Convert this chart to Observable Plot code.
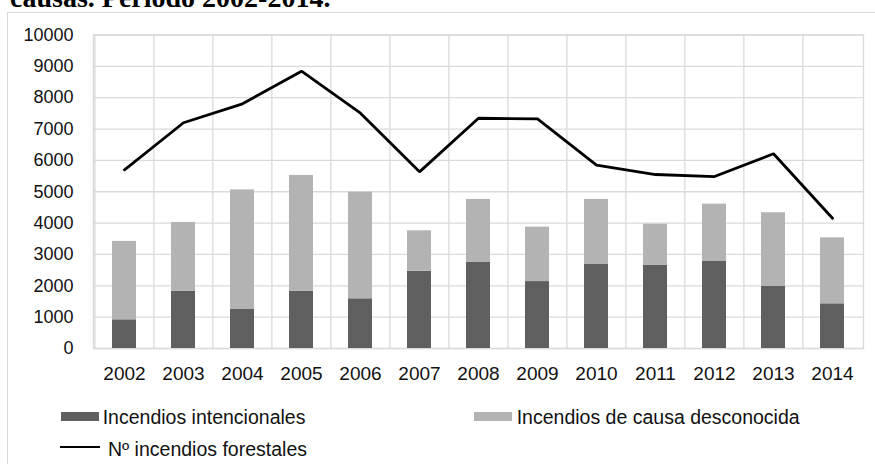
<!DOCTYPE html>
<html>
<head>
<meta charset="utf-8">
<script src="https://cdn.jsdelivr.net/npm/d3@7"></script>
<script src="https://cdn.jsdelivr.net/npm/@observablehq/plot@0.6"></script>
<style>
  html, body { margin: 0; padding: 0; background: #fff; }
  #wrap { position: relative; width: 875px; height: 464px; overflow: hidden; background: #fff; font-family: "Liberation Sans", Arial, sans-serif; }
  #title { position: absolute; left: 10px; top: -16.4px; font-family: "Liberation Serif", "Times New Roman", serif; font-weight: bold; font-size: 28px; line-height: 28px; white-space: nowrap; color: #000; }
  #box { position: absolute; left: 7px; top: 12px; width: 1000px; height: 1000px; border: 1.5px solid #d9d9d9; box-sizing: border-box; }
  #chart { position: absolute; left: 0; top: 13px; }
  .leg { position: absolute; font-size: 19.5px; line-height: 18px; white-space: nowrap; color: #111; }
  .sw { position: absolute; }
</style>
</head>
<body>
<div id="wrap">
  <div id="title">causas. Periodo 2002-2014.</div>
  <div id="box"></div>
  <div id="chart"></div>
  <div id="legend"></div>
</div>
<script>
const years = ["2002","2003","2004","2005","2006","2007","2008","2009","2010","2011","2012","2013","2014"];
const intencionales = [915, 1830, 1245, 1830, 1585, 2465, 2745, 2135, 2680, 2650, 2775, 1980, 1425];
const desconocida   = [2500, 2190, 3815, 3690, 3400, 1290, 2010, 1735, 2075, 1315, 1830, 2350, 2105];
const forestales    = [5700, 7200, 7805, 8845, 7505, 5635, 7345, 7325, 5850, 5550, 5485, 6210, 4155];
const yTicks = [0,1000,2000,3000,4000,5000,6000,7000,8000,9000,10000];
const seriesNames = ["Incendios intencionales", "Incendios de causa desconocida"];
const lineName = "Nº incendios forestales";
const colors = ["#5f5f5f", "#b3b3b3"];

const rows = [];
years.forEach((yr, i) => {
  rows.push({year: yr, serie: seriesNames[0], value: intencionales[i]});
  rows.push({year: yr, serie: seriesNames[1], value: desconocida[i]});
});
const lineRows = years.map((yr, i) => ({year: yr, value: forestales[i]}));

const W = 875, H = 377, mL = 93, mR = 12, mT = 21.5, mB = 42;
const step = (W - mL - mR) / years.length;
const grid = "#dadada";

const plot = Plot.plot({
  width: W, height: H,
  marginLeft: mL, marginRight: mR, marginTop: mT, marginBottom: mB,
  style: {fontFamily: "'Liberation Sans', Arial, sans-serif", color: "#111", background: "transparent"},
  x: {type: "band", domain: years, paddingInner: 0.6, paddingOuter: 0.3, axis: null, label: null},
  y: {domain: [0, 10000], axis: null, label: null},
  color: {domain: seriesNames, range: colors},
  marks: [
    Plot.ruleY(yTicks, {y: d => d, stroke: grid, strokeWidth: 1.3}),
    Plot.ruleX(years, {x: d => d, dx: -step / 2, stroke: grid, strokeWidth: 1.3}),
    Plot.frame({stroke: grid, strokeWidth: 1.3}),
    Plot.barY(rows, {x: "year", y: "value", fill: "serie", order: seriesNames}),
    Plot.line(lineRows, {x: "year", y: "value", stroke: "#000", strokeWidth: 2.8, strokeLinejoin: "miter"}),
    Plot.axisX({tickSize: 0, tickPadding: 18, fontSize: 19, fill: "#111", label: null}),
    Plot.axisY({ticks: yTicks, tickSize: 0, tickPadding: 20, fontSize: 18, fill: "#111", label: null, tickFormat: d => String(d)})
  ]
});
document.getElementById("chart").appendChild(plot);

// legend
const legend = document.getElementById("legend");
function addSwatch(left, top, w, h, color) {
  const s = document.createElement("div");
  s.className = "sw";
  Object.assign(s.style, {left: left + "px", top: top + "px", width: w + "px", height: h + "px", background: color});
  legend.appendChild(s);
}
function addText(left, top, text) {
  const t = document.createElement("div");
  t.className = "leg";
  t.textContent = text;
  Object.assign(t.style, {left: left + "px", top: top + "px"});
  legend.appendChild(t);
}
addSwatch(61, 412, 37.5, 8.5, colors[0]);
addText(102.7, 407.8, seriesNames[0]);
addSwatch(473.5, 412, 38, 8.5, colors[1]);
addText(516.7, 407.8, seriesNames[1]);
addSwatch(60, 445.5, 40, 2.6, "#000");
addText(108, 439.8, lineName);
</script>
</body>
</html>
